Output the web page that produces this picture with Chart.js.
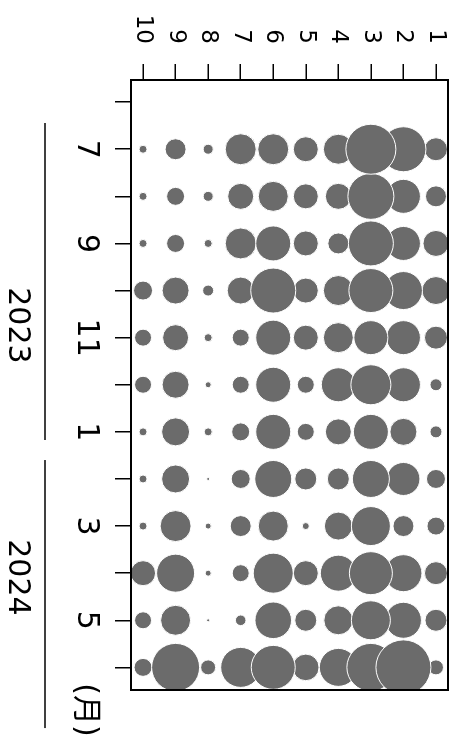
<!DOCTYPE html>
<html>
<head>
<meta charset="utf-8">
<script src="https://cdn.jsdelivr.net/npm/chart.js@4"></script>
<style>
  html, body { margin: 0; padding: 0; background: #fff; overflow: hidden; width: 467px; height: 745px; }
  #wrap { position: absolute; left: 0; top: 0; width: 745px; height: 467px;
          transform-origin: 0 0; transform: translate(467px, 0) rotate(90deg); }
  canvas { display: block; }
</style>
</head>
<body>
<div id="wrap"><canvas id="c" width="745" height="467" style="width:745px;height:467px"></canvas></div>
<script>
// ---- data ----
// x axis: month index 0 = 2023/6 ... 12 = 2024/6
const monthTickLabels = ['', '7', '', '9', '', '11', '', '1', '', '3', '', '5', ''];
const dataMonths = ['2023/7','2023/8','2023/9','2023/10','2023/11','2023/12','2024/1','2024/2','2024/3','2024/4','2024/5','2024/6'];
const categories = [1, 2, 3, 4, 5, 6, 7, 8, 9, 10];
const yearLabels = ['2023', '2024'];
const unitLabel = '(月)';
// bubble size values (radius units), categories 1..10
const s2023_07 = [11.5, 22.5, 25, 15, 12.5, 15.5, 15.5, 5, 10.5, 4];
const s2023_08 = [10.5, 17, 23, 13, 12.5, 15, 13, 5, 9, 4];
const s2023_09 = [13, 17, 22.5, 10.5, 12.5, 17.5, 15.5, 4, 9, 4];
const s2023_10 = [14, 19, 22, 15, 12.5, 22.5, 13.5, 5.5, 13.5, 9.5];
const s2023_11 = [11.5, 17, 17, 15, 12.5, 17.5, 8.5, 4, 13, 8.5];
const s2023_12 = [6, 17, 20, 17, 8.5, 17.5, 8.5, 3, 13.5, 8.5];
const s2024_01 = [6, 13.5, 17.5, 13, 8.5, 17.5, 9, 4, 14, 4];
const s2024_02 = [9.5, 16.5, 18.5, 11, 11, 18.5, 9.5, 1.5, 14, 4];
const s2024_03 = [9, 10.5, 19.5, 14, 3.5, 15, 10.5, 3, 15.5, 4];
const s2024_04 = [11.5, 18.5, 21.5, 18, 12.5, 20, 8.5, 3, 19, 12.5];
const s2024_05 = [11, 18, 19.5, 14.5, 11, 18.3, 5.3, 1.5, 15, 8.5];
const s2024_06 = [7.5, 27.5, 24, 19, 13.3, 22, 20, 7.5, 24, 9];
const sizeRows = [s2023_07, s2023_08, s2023_09, s2023_10, s2023_11, s2023_12,
                  s2024_01, s2024_02, s2024_03, s2024_04, s2024_05, s2024_06];

// ---- build points ----
const R_SCALE = 1;
const points = [];
sizeRows.forEach((row, mi) => {
  row.forEach((v, ci) => {
    points.push({ x: mi + 1, y: categories[ci], r: v * R_SCALE });
  });
});
points.sort((a, b) => a.r - b.r); // larger bubbles drawn on top

const FONT = "'DejaVu Sans', 'Noto Sans CJK JP', sans-serif";

const extras = {
  id: 'extras',
  afterDatasetsDraw(chart) {
    const { ctx, chartArea: a } = chart;
    ctx.save();
    ctx.strokeStyle = '#000';
    ctx.lineWidth = 2;
    ctx.strokeRect(a.left, a.top, a.right - a.left, a.bottom - a.top);
    ctx.restore();
  },
  afterDraw(chart) {
    const { ctx } = chart;
    const xs = chart.scales.x;
    ctx.save();
    ctx.fillStyle = '#000';
    ctx.strokeStyle = '#000';
    ctx.lineWidth = 1.5;
    const spans = [[0.443, 7.173], [7.598, 13.288]];
    spans.forEach(([s, e]) => {
      ctx.beginPath();
      ctx.moveTo(xs.getPixelForValue(s), 422);
      ctx.lineTo(xs.getPixelForValue(e), 422);
      ctx.stroke();
    });
    ctx.font = '30px ' + FONT;
    ctx.textAlign = 'center';
    ctx.textBaseline = 'middle';
    ctx.fillText(yearLabels[0], xs.getPixelForValue(4.74), 450);
    ctx.fillText(yearLabels[1], xs.getPixelForValue(10.09), 450);
    ctx.fillText(unitLabel, xs.getPixelForValue(12.906), 382);
    ctx.restore();
  }
};

new Chart(document.getElementById('c'), {
  type: 'bubble',
  data: {
    datasets: [{
      data: points,
      backgroundColor: '#6b6b6b',
      borderColor: '#ffffff',
      borderWidth: 1,
      clip: 0
    }]
  },
  options: {
    responsive: false,
    devicePixelRatio: 1,
    animation: false,
    events: [],
    layout: { autoPadding: false, padding: { left: 0, right: 55, top: 19, bottom: 0 } },
    plugins: { legend: { display: false }, tooltip: { enabled: false } },
    scales: {
      x: {
        type: 'linear',
        position: 'bottom',
        min: -0.47,
        max: 12.48,
        afterBuildTicks(scale) { scale.ticks = monthTickLabels.map((_, i) => ({ value: i })); },
        afterFit(scale) { scale.height = 131; scale.paddingLeft = 0; scale.paddingRight = 0; },
        ticks: {
          autoSkip: false,
          maxRotation: 0,
          minRotation: 0,
          padding: 11,
          color: '#000',
          font: { size: 30, family: FONT },
          callback: (v) => monthTickLabels[Math.round(v)] ?? ''
        },
        grid: { display: true, drawOnChartArea: false, drawTicks: true, tickLength: 16, color: '#000', lineWidth: 1.5 },
        border: { display: false }
      },
      y: {
        type: 'linear',
        position: 'left',
        reverse: true,
        min: 0.63,
        max: 10.37,
        afterBuildTicks(scale) { scale.ticks = categories.map(v => ({ value: v })); },
        afterFit(scale) { scale.width = 80; scale.paddingTop = 0; scale.paddingBottom = 0; },
        ticks: {
          autoSkip: false,
          padding: 20,
          color: '#000',
          font: { size: 23, family: FONT },
          callback: (v) => String(v)
        },
        grid: { display: true, drawOnChartArea: false, drawTicks: true, tickLength: 16, color: '#000', lineWidth: 1.5 },
        border: { display: false }
      }
    }
  },
  plugins: [extras]
});
</script>
</body>
</html>
